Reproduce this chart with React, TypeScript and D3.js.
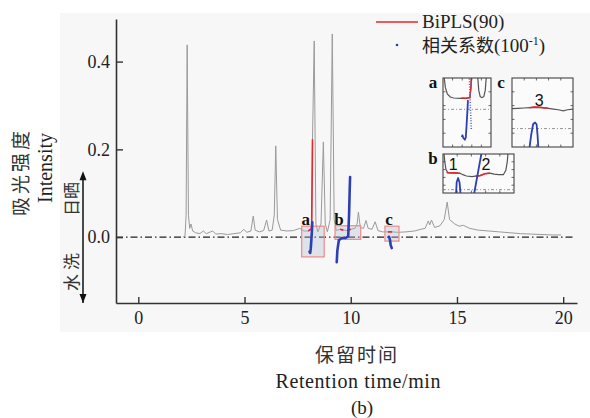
import React, { useEffect, useRef } from 'react'
import * as d3 from 'd3'

type Pt = [number, number]

const xTicks = [0, 5, 10, 15, 20]
const yTicks = [0, 0.2, 0.4]

// chromatogram: retention time (min), intensity
const chromatogram: Pt[] = [
  [2.1, 0.0], [2.2, 0.003], [2.25, 0.05], [2.3, 0.438], [2.36, 0.05], [2.42, 0.02], [2.48, 0.03],
  [2.56, 0.014], [2.7, 0.01], [2.9, 0.008], [3.06, 0.014], [3.2, 0.008], [3.5, 0.014], [3.65, 0.007],
  [3.9, 0.008], [4.2, 0.006], [4.5, 0.008], [4.8, 0.01], [4.97, 0.018], [5.1, 0.011], [5.3, 0.014],
  [5.41, 0.048], [5.5, 0.016], [5.7, 0.012], [5.9, 0.015], [6.04, 0.039], [6.15, 0.014], [6.3, 0.016],
  [6.4, 0.05], [6.47, 0.208], [6.55, 0.04], [6.7, 0.016], [7.0, 0.014], [7.3, 0.015], [7.6, 0.02],
  [7.8, 0.014], [8.0, 0.014], [8.12, 0.018], [8.16, 0.02], [8.2, 0.223], [8.28, 0.447], [8.36, 0.03],
  [8.45, 0.012], [8.6, 0.03], [8.71, 0.217], [8.8, 0.03], [8.9, 0.012], [9.03, 0.04], [9.13, 0.463],
  [9.22, 0.04], [9.32, 0.015], [9.5, 0.018], [9.65, 0.016], [9.85, 0.015], [10.0, 0.018], [10.2, 0.02],
  [10.3, 0.03], [10.36, 0.057], [10.45, 0.022], [10.6, 0.02], [10.72, 0.038], [10.82, 0.02], [11.0, 0.018],
  [11.15, 0.035], [11.28, 0.015], [11.5, 0.012], [11.75, 0.012], [11.95, 0.012], [12.2, 0.011], [12.6, 0.012],
  [13.0, 0.014], [13.3, 0.018], [13.5, 0.02], [13.65, 0.037], [13.72, 0.028], [13.8, 0.039], [13.95, 0.022],
  [14.2, 0.026], [14.4, 0.04], [14.54, 0.08], [14.65, 0.04], [14.9, 0.03], [15.1, 0.025], [15.3, 0.027],
  [15.6, 0.02], [16.0, 0.016], [16.5, 0.014], [17.0, 0.012], [17.5, 0.01], [18.0, 0.008], [18.5, 0.007],
  [19.0, 0.006], [19.5, 0.005], [19.9, 0.005]
]

// BiPLS(90) selected intervals
const biplsA: Pt[] = [[8.0, 0.014], [8.12, 0.018], [8.16, 0.02], [8.2, 0.223]]
const biplsB1: Pt[] = [[9.5, 0.018], [9.65, 0.016]]
const biplsB2: Pt[] = [[9.85, 0.015], [10.0, 0.018]]
const biplsC: Pt[] = [[11.75, 0.012], [11.95, 0.012]]

// correlation coefficient (x 1/100)
const corrA: Pt[] = [[8.19, 0.034], [8.17, 0.012], [8.14, -0.01], [8.12, -0.025], [8.09, -0.036], [8.06, -0.033]]
const corrB: Pt[] = [
  [9.34, -0.057], [9.37, -0.03], [9.44, -0.007], [9.58, -0.002], [9.76, -0.002], [9.88, 0.002],
  [9.92, 0.05], [9.95, 0.107], [9.97, 0.137]
]
const corrC: Pt[] = [[11.8, 0.001], [11.85, -0.007], [11.88, -0.018], [11.93, -0.025]]

// zoomed windows: label, [t0, t1], [v0, v1]
const windowLabels = ['a', 'b', 'c']
const windowTimes: Pt[] = [[7.69, 8.75], [9.26, 10.47], [11.61, 12.27]]
const windowValues: Pt[] = [[-0.045, 0.025], [-0.005, 0.026], [-0.009, 0.025]]

// insets, local units 0-100
const insetAGray: Pt[] = [
  [0, 140], [2.5, 100], [5, 86], [9, 77], [15, 72.5], [22, 71], [35, 70.5], [48, 70.5], [56, 71.5],
  [58, 85], [60, 110], [62, 140], [70, 140], [72.5, 100], [74.5, 82], [77.5, 73], [81, 71.5], [85, 73],
  [88, 82], [90, 100], [92, 140]
]
const insetARed: Pt[] = [[38, 71], [47, 70.5], [56, 71.5], [58, 85], [59.5, 104]]
const insetABlue: Pt[] = [[52, 68], [50.5, 48], [49, 30], [47.5, 14], [45.5, 10.5], [42.5, 13], [40.5, 17], [39, 14.5]]
const insetADots: Pt[] = [[55, 99], [56, 80], [57, 60], [58, 42], [59, 25]]
const insetALevel = 54.6

const insetCGray: Pt[] = [
  [0, 55.5], [10, 56], [20, 56.5], [28.6, 57], [36, 57.5], [44, 57], [52, 56.5], [59.4, 56], [68, 55],
  [76, 54], [84, 52.5], [91, 54], [100, 55]
]
const insetCRed: Pt[] = [[28.6, 57], [36, 58], [44, 58], [52, 57], [59.4, 56]]
const insetCBlue: Pt[] = [[28.6, -2], [31.3, 17], [34.6, 33], [37.8, 35.5], [40.3, 33], [41.9, 17], [43.2, -2]]
const insetCLevel = 26.7

const insetBGray: Pt[] = [
  [0.5, 130], [1.5, 100], [2.5, 80], [4.2, 60], [7, 52], [12, 51.5], [17, 52], [21, 51], [24, 50.5],
  [28, 47], [33, 43.5], [40.8, 42], [46, 43.5], [52, 44.5], [59, 49.5], [66, 50.8], [72, 48.5],
  [78, 46.9], [85, 46.9], [88.5, 58], [90.5, 80], [92, 110], [93, 140]
]
const insetBRed1: Pt[] = [[5, 53], [7, 52], [12, 51.5], [17, 52], [21, 51], [24, 50.5]]
const insetBRed2: Pt[] = [[46, 43.5], [52, 44.5], [59, 49.5], [66, 50.8]]
const insetBBlue1: Pt[] = [[18.3, -5], [19.3, 28], [21.3, 38.5], [23.3, 27], [24.8, -5]]
const insetBBlue2: Pt[] = [[43.5, -5], [46.5, 25], [49.5, 55], [52.5, 85], [54.5, 105]]
const insetBLevel = 8.5

const serif = '"Liberation Serif", "Times New Roman", Times, "DejaVu Serif", serif'
const sans = '"Liberation Sans", Arial, sans-serif'
const cjk = '"Noto Sans CJK SC", sans-serif'
const RED = '#e8262b'
const BLUE = '#2c3fb4'

function App() {
  const svgRef = useRef<SVGSVGElement>(null)

  useEffect(() => {
    const svg = d3.select(svgRef.current)
    svg.selectAll('*').remove()

    // faint panel background
    svg.append('rect')
      .attr('x', 60).attr('y', 13).attr('width', 530).attr('height', 319)
      .attr('fill', '#f7f7f7')

    const x = d3.scaleLinear().domain([-1.05, 20.65]).range([116, 577])
    const y = d3.scaleLinear().domain([-0.15, 0.497]).range([303, 19])
    const line = d3.line<Pt>().x(d => x(d[0])).y(d => y(d[1]))

    // zero line (dash-dot)
    svg.append('line')
      .attr('x1', x(-1.05)).attr('x2', x(20.55))
      .attr('y1', y(0)).attr('y2', y(0))
      .attr('stroke', '#222').attr('stroke-width', 1.2)
      .attr('stroke-dasharray', '7,3,1.5,3')

    // chromatogram
    svg.append('path')
      .datum(chromatogram)
      .attr('d', line)
      .attr('fill', 'none')
      .attr('stroke', '#9a9a9a')
      .attr('stroke-width', 1)

    // zoom windows
    windowLabels.forEach((lab, i) => {
      const [t0, t1] = windowTimes[i]
      const [v0, v1] = windowValues[i]
      svg.append('rect')
        .attr('x', x(t0)).attr('y', y(v1))
        .attr('width', x(t1) - x(t0)).attr('height', y(v0) - y(v1))
        .attr('fill', 'rgba(175,185,205,0.35)')
        .attr('stroke', '#ee8a8a').attr('stroke-width', 1.2)
      svg.append('text')
        .attr('x', x(t0) + 4).attr('y', y(v1) - 1)
        .attr('text-anchor', 'middle')
        .style('font-family', serif).style('font-size', '17px').style('font-weight', 'bold')
        .attr('fill', '#111')
        .text(lab)
    })

    // BiPLS intervals
    ;[biplsA, biplsB1, biplsB2, biplsC].forEach(seg => {
      svg.append('path').datum(seg).attr('d', line)
        .attr('fill', 'none').attr('stroke', RED).attr('stroke-width', 1.6)
    })

    // correlation coefficient
    ;[corrA, corrB, corrC].forEach(seg => {
      svg.append('path').datum(seg).attr('d', line)
        .attr('fill', 'none').attr('stroke', BLUE).attr('stroke-width', 2.6)
        .attr('stroke-linecap', 'round').attr('stroke-linejoin', 'round')
    })

    // axes
    const xAxis = svg.append('g')
      .attr('transform', `translate(0,${y(-0.15)})`)
      .call(d3.axisBottom(x).tickValues(xTicks).tickSize(-6).tickSizeOuter(0).tickPadding(8)
        .tickFormat(d3.format('d')))
    const yAxis = svg.append('g')
      .attr('transform', `translate(${x(-1.05)},0)`)
      .call(d3.axisLeft(y).tickValues(yTicks).tickSize(-7).tickSizeOuter(0).tickPadding(6)
        .tickFormat(d3.format('.1f')))
    ;[xAxis, yAxis].forEach(ax => {
      ax.attr('color', '#333').attr('font-family', null).attr('font-size', null)
      ax.select('.domain').attr('stroke-width', 1.6)
      ax.selectAll('.tick line').attr('stroke-width', 1.4)
      ax.selectAll('.tick text').attr('fill', '#222')
        .style('font-family', serif).style('font-size', '18px')
    })

    // y title
    svg.append('text')
      .attr('transform', 'translate(28,172) rotate(-90)')
      .attr('text-anchor', 'middle')
      .style('font-family', cjk).style('font-size', '19px').style('letter-spacing', '3px')
      .attr('fill', '#333')
      .text('吸光强度')
    svg.append('text')
      .attr('transform', 'translate(52,168) rotate(-90)')
      .attr('text-anchor', 'middle')
      .style('font-family', serif).style('font-size', '20px')
      .attr('fill', '#222')
      .text('Intensity')

    // direction arrow
    svg.append('line')
      .attr('x1', 83).attr('x2', 83).attr('y1', y(0.14)).attr('y2', y(-0.15))
      .attr('stroke', '#111').attr('stroke-width', 1.5)
    const ay0 = y(0.15)
    const ay1 = y(-0.15)
    svg.append('path').attr('d', `M83,${ay0} L79.5,${ay0 + 9} L86.5,${ay0 + 9} Z`).attr('fill', '#111')
    svg.append('path').attr('d', `M83,${ay1} L79.5,${ay1 - 9} L86.5,${ay1 - 9} Z`).attr('fill', '#111')
    svg.append('text')
      .attr('transform', 'translate(78,199) rotate(-90)')
      .attr('text-anchor', 'middle')
      .style('font-family', cjk).style('font-size', '17px')
      .attr('fill', '#333')
      .text('日晒')
    svg.append('text')
      .attr('transform', 'translate(78,270) rotate(-90)')
      .attr('text-anchor', 'middle')
      .style('font-family', cjk).style('font-size', '17px').style('letter-spacing', '4px')
      .attr('fill', '#333')
      .text('水洗')

    // x titles
    svg.append('text')
      .attr('x', 357).attr('y', 362)
      .attr('text-anchor', 'middle')
      .style('font-family', cjk).style('font-size', '19px').style('letter-spacing', '2px')
      .attr('fill', '#333')
      .text('保留时间')
    svg.append('text')
      .attr('x', 358).attr('y', 388)
      .attr('text-anchor', 'middle')
      .attr('textLength', 165).attr('lengthAdjust', 'spacing')
      .style('font-family', serif).style('font-size', '20px')
      .attr('fill', '#222')
      .text('Retention time/min')
    svg.append('text')
      .attr('x', 362).attr('y', 414)
      .attr('text-anchor', 'middle')
      .style('font-family', serif).style('font-size', '19px')
      .attr('fill', '#222')
      .text('(b)')

    // legend
    svg.append('line')
      .attr('x1', 376).attr('x2', 418).attr('y1', 22).attr('y2', 22)
      .attr('stroke', RED).attr('stroke-width', 1.6)
    svg.append('text')
      .attr('x', 422).attr('y', 28)
      .style('font-family', serif).style('font-size', '19px')
      .attr('fill', '#222')
      .text('BiPLS(90)')
    svg.append('circle').attr('cx', 397).attr('cy', 45).attr('r', 1.3).attr('fill', BLUE)
    const lt = svg.append('text')
      .attr('x', 422).attr('y', 52)
      .style('font-size', '18px')
      .attr('fill', '#222')
    lt.append('tspan').style('font-family', cjk).text('相关系数')
    lt.append('tspan').style('font-family', serif).style('font-size', '19px').text('(100')
    lt.append('tspan').style('font-family', serif).style('font-size', '12px').attr('dy', -7).text('-1')
    lt.append('tspan').style('font-family', serif).style('font-size', '19px').attr('dy', 7).text(')')

    // insets
    const insets = [
      {
        id: 'a', box: [443, 78, 48, 69], gray: [insetAGray], red: [insetARed], blue: [insetABlue],
        dots: insetADots, level: insetALevel, nums: [] as [string, number, number][]
      },
      {
        id: 'c', box: [512, 78, 61, 69], gray: [insetCGray], red: [insetCRed], blue: [insetCBlue],
        dots: null, level: insetCLevel, nums: [['3', 44.6, 67.5]] as [string, number, number][]
      },
      {
        id: 'b', box: [443, 154, 71, 39], gray: [insetBGray], red: [insetBRed1, insetBRed2],
        blue: [insetBBlue1, insetBBlue2], dots: null, level: insetBLevel,
        nums: [['1', 14.5, 72.6], ['2', 60.6, 72.6]] as [string, number, number][]
      }
    ]

    insets.forEach(ins => {
      const [bx, by, bw, bh] = ins.box
      const ix = d3.scaleLinear().domain([0, 100]).range([bx, bx + bw])
      const iy = d3.scaleLinear().domain([0, 100]).range([by + bh, by])
      const il = d3.line<Pt>().x(d => ix(d[0])).y(d => iy(d[1]))
      const clipId = `clip-${ins.id}`
      svg.append('clipPath').attr('id', clipId)
        .append('rect').attr('x', bx).attr('y', by).attr('width', bw).attr('height', bh)

      svg.append('rect')
        .attr('x', bx).attr('y', by).attr('width', bw).attr('height', bh)
        .attr('fill', '#fbfbfb')

      const g = svg.append('g').attr('clip-path', `url(#${clipId})`)
      g.append('line')
        .attr('x1', bx).attr('x2', bx + bw).attr('y1', iy(ins.level)).attr('y2', iy(ins.level))
        .attr('stroke', '#888').attr('stroke-width', 0.9).attr('stroke-dasharray', '3,2,1,2')
      ins.gray.forEach(s => g.append('path').datum(s).attr('d', il)
        .attr('fill', 'none').attr('stroke', '#555').attr('stroke-width', 1.2))
      ins.red.forEach(s => g.append('path').datum(s).attr('d', il)
        .attr('fill', 'none').attr('stroke', RED).attr('stroke-width', 1.5))
      if (ins.dots) {
        g.append('path').datum(ins.dots).attr('d', il)
          .attr('fill', 'none').attr('stroke', '#5565cc').attr('stroke-width', 1.6)
          .attr('stroke-dasharray', '1,1.6')
      }
      ins.blue.forEach(s => g.append('path').datum(s).attr('d', il)
        .attr('fill', 'none').attr('stroke', BLUE).attr('stroke-width', 1.8)
        .attr('stroke-linejoin', 'round'))

      // frame and inward ticks
      svg.append('rect')
        .attr('x', bx).attr('y', by).attr('width', bw).attr('height', bh)
        .attr('fill', 'none').attr('stroke', '#444').attr('stroke-width', 1.1)
      const tk = [20, 40, 60, 80]
      tk.forEach(t => {
        svg.append('line').attr('x1', ix(t)).attr('x2', ix(t)).attr('y1', by + bh).attr('y2', by + bh - 2.5)
          .attr('stroke', '#444').attr('stroke-width', 0.8)
        svg.append('line').attr('x1', ix(t)).attr('x2', ix(t)).attr('y1', by).attr('y2', by + 2.5)
          .attr('stroke', '#444').attr('stroke-width', 0.8)
        svg.append('line').attr('x1', bx).attr('x2', bx + 2.5).attr('y1', iy(t)).attr('y2', iy(t))
          .attr('stroke', '#444').attr('stroke-width', 0.8)
        svg.append('line').attr('x1', bx + bw).attr('x2', bx + bw - 2.5).attr('y1', iy(t)).attr('y2', iy(t))
          .attr('stroke', '#444').attr('stroke-width', 0.8)
      })

      ins.nums.forEach(([txt, nx, ny]) => {
        svg.append('text')
          .attr('x', ix(nx)).attr('y', iy(ny)).attr('dy', '0.36em')
          .attr('text-anchor', 'middle')
          .style('font-family', sans).style('font-size', '16px')
          .attr('fill', '#111')
          .text(txt)
      })

      svg.append('text')
        .attr('x', ins.id === 'c' ? bx - 11 : bx - 10).attr('y', by + 10)
        .attr('text-anchor', 'middle')
        .style('font-family', serif).style('font-size', '17px').style('font-weight', 'bold')
        .attr('fill', '#111')
        .text(ins.id)
    })
  }, [])

  return (
    <svg
      ref={svgRef}
      width={590}
      height={418}
      style={{ position: 'absolute', left: 0, top: 0, background: '#fff' }}
    />
  )
}

export default App
